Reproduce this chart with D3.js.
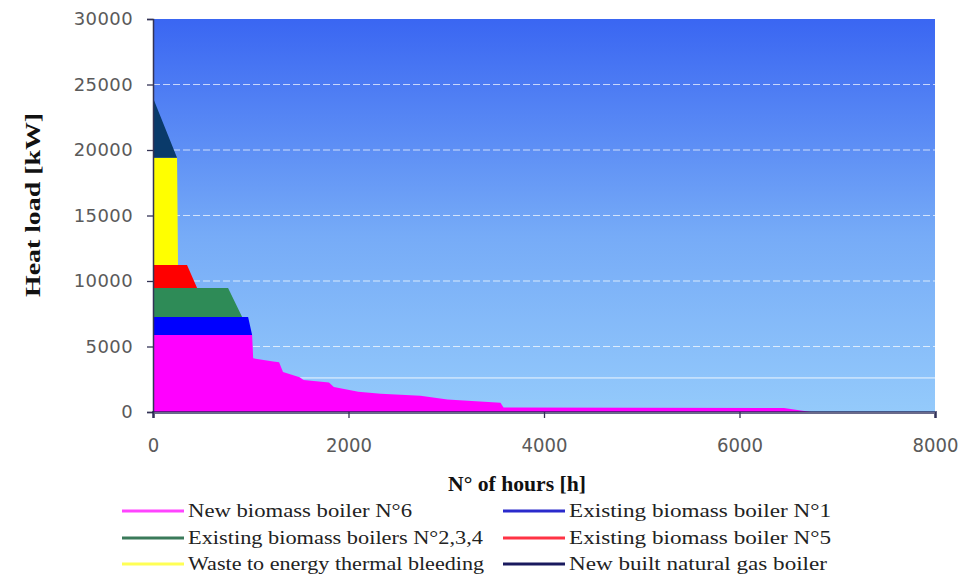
<!DOCTYPE html>
<html>
<head>
<meta charset="utf-8">
<script src="https://cdn.jsdelivr.net/npm/d3@7"></script>
<style>
  html, body { margin: 0; padding: 0; background: #ffffff; }
  svg { display: block; }
</style>
</head>
<body>
<svg id="chart" width="969" height="577"></svg>
<script>
// ---- Data ----
const hours = [0, 10, 246, 256, 348, 451, 768, 912, 973, 1014, 1025, 1230, 1290, 1330, 1500, 1540, 1800, 1850, 2100, 2330, 2736, 3012, 3555, 3586, 6455, 6732, 8000];
const newBiomassN6 =      [5880, 5880, 5880, 5880, 5880, 5880, 5880, 5880, 5880, 5880, 4100, 3850, 3800, 3050, 2650, 2450, 2250, 1900, 1550, 1400, 1250, 950, 700, 350, 300, 0, 0];
const existingBiomassN1 = [1370, 1370, 1370, 1370, 1370, 1370, 1370, 1370, 1370, 0, 0, 0, 0, 0, 0, 0, 0, 0, 0, 0, 0, 0, 0, 0, 0, 0, 0];
const existingBiomassN234=[2220, 2220, 2220, 2220, 2220, 2220, 2220, 0, 0, 0, 0, 0, 0, 0, 0, 0, 0, 0, 0, 0, 0, 0, 0, 0, 0, 0, 0];
const existingBiomassN5 = [1750, 1750, 1750, 1750, 1750, 0, 0, 0, 0, 0, 0, 0, 0, 0, 0, 0, 0, 0, 0, 0, 0, 0, 0, 0, 0, 0, 0];
const wasteToEnergy =     [8180, 8180, 8180, 0, 0, 0, 0, 0, 0, 0, 0, 0, 0, 0, 0, 0, 0, 0, 0, 0, 0, 0, 0, 0, 0, 0, 0];
const newGasBoiler =      [7400, 4400, 0, 0, 0, 0, 0, 0, 0, 0, 0, 0, 0, 0, 0, 0, 0, 0, 0, 0, 0, 0, 0, 0, 0, 0, 0];

const seriesNames = [
  "New biomass boiler N°6",
  "Existing biomass boiler N°1",
  "Existing biomass boilers N°2,3,4",
  "Existing biomass boiler N°5",
  "Waste to energy thermal bleeding",
  "New built natural gas boiler"
];
const seriesValues = [newBiomassN6, existingBiomassN1, existingBiomassN234, existingBiomassN5, wasteToEnergy, newGasBoiler];
const areaColors = ["#ff00ff", "#0000ff", "#2e8b57", "#ff0000", "#ffff00", "#0a3a6a"];
const legendColors = ["#ff44ff", "#2a2acc", "#3a7a5a", "#ff3344", "#ffff55", "#1a1a5e"];
const legendTextWidths = [224, 262, 295, 262, 296, 258];
const xTicks = [0, 2000, 4000, 6000, 8000];
const yTicks = [0, 5000, 10000, 15000, 20000, 25000, 30000];
const thinRefLine = 2600;

// ---- Layout ----
const svg = d3.select("#chart");
const pLeft = 153, pRight = 935, pTop = 19, pBottom = 412;

const x = d3.scaleLinear().domain([0, 8000]).range([pLeft, pRight]);
const y = d3.scaleLinear().domain([0, 30000]).range([pBottom, pTop]);

// background gradient
const defs = svg.append("defs");
const grad = defs.append("linearGradient").attr("id", "bg").attr("x1", 0).attr("y1", 0).attr("x2", 0).attr("y2", 1);
grad.append("stop").attr("offset", "0%").attr("stop-color", "#3a66f2");
grad.append("stop").attr("offset", "55%").attr("stop-color", "#76abf7");
grad.append("stop").attr("offset", "100%").attr("stop-color", "#94cafb");

svg.append("rect")
  .attr("x", pLeft).attr("y", pTop)
  .attr("width", pRight - pLeft).attr("height", pBottom - pTop)
  .attr("fill", "url(#bg)");

// gridlines
svg.append("g")
  .selectAll("line")
  .data(yTicks.filter(d => d > 0 && d < 30000))
  .join("line")
  .attr("x1", pLeft).attr("x2", pRight)
  .attr("y1", d => y(d)).attr("y2", d => y(d))
  .attr("stroke", "#ffffff")
  .attr("stroke-opacity", 0.7)
  .attr("stroke-width", 1.2)
  .attr("stroke-dasharray", "7,3");

svg.append("line")
  .attr("x1", pLeft).attr("x2", pRight)
  .attr("y1", y(thinRefLine)).attr("y2", y(thinRefLine))
  .attr("stroke", "#ffffff")
  .attr("stroke-opacity", 0.85)
  .attr("stroke-width", 1);

// stacked areas
const table = hours.map((h, i) => {
  const row = { h };
  seriesNames.forEach((n, k) => { row[n] = seriesValues[k][i]; });
  return row;
});
const stack = d3.stack().keys(seriesNames);
const layers = stack(table);
const area = d3.area()
  .x(d => x(d.data.h))
  .y0(d => y(d[0]))
  .y1(d => y(d[1]))
  .curve(d3.curveLinear);

svg.append("g")
  .selectAll("path")
  .data(layers)
  .join("path")
  .attr("d", area)
  .attr("fill", (d, i) => areaColors[i]);

// axes
const axisColor = "#333355";
const yAxis = d3.axisLeft(y).tickValues(yTicks).tickSize(6).tickPadding(14).tickFormat(d3.format("d"));
const gy = svg.append("g").attr("transform", `translate(${pLeft},0)`).call(yAxis);
gy.select(".domain").attr("stroke", axisColor).attr("stroke-width", 1.5);
gy.selectAll(".tick line").attr("stroke", axisColor).attr("stroke-width", 1.3);
gy.selectAll(".tick text")
  .attr("font-family", "DejaVu Sans, sans-serif")
  .attr("font-size", 18)
  .attr("fill", "#5a5a5a")
  .attr("letter-spacing", "0.4px");

const xAxis = d3.axisBottom(x).tickValues(xTicks).tickSize(6).tickPadding(20).tickFormat(d3.format("d"));
const gx = svg.append("g").attr("transform", `translate(0,${pBottom})`).call(xAxis);
gx.select(".domain").attr("stroke", "#1a1a4d").attr("stroke-opacity", 0.65).attr("stroke-width", 3);
gx.selectAll(".tick line").attr("stroke", axisColor).attr("stroke-width", 1.3);
gx.selectAll(".tick text")
  .attr("font-family", "DejaVu Sans, sans-serif")
  .attr("font-size", 20)
  .attr("fill", "#5a5a5a")
  .attr("textLength", d => String(d).length * 11.5)
  .attr("lengthAdjust", "spacingAndGlyphs");

// axis titles
svg.append("text")
  .attr("x", 517).attr("y", 491)
  .attr("text-anchor", "middle")
  .attr("font-family", "Liberation Serif, serif")
  .attr("font-weight", "bold")
  .attr("font-size", 20)
  .attr("fill", "#111")
  .attr("textLength", 138)
  .attr("lengthAdjust", "spacingAndGlyphs")
  .text("N° of hours [h]");

svg.append("text")
  .attr("transform", "translate(40,205) rotate(-90)")
  .attr("text-anchor", "middle")
  .attr("font-family", "Liberation Serif, serif")
  .attr("font-weight", "bold")
  .attr("font-size", 22)
  .attr("fill", "#111")
  .attr("textLength", 184)
  .attr("lengthAdjust", "spacingAndGlyphs")
  .text("Heat load [kW]");

// legend
const legendPos = [
  { lx: 122, ly: 511 }, { lx: 503, ly: 511 },
  { lx: 122, ly: 538 }, { lx: 503, ly: 538 },
  { lx: 122, ly: 564 }, { lx: 503, ly: 564 }
];
const lg = svg.append("g");
const items = lg.selectAll("g").data(seriesNames).join("g")
  .attr("transform", (d, i) => `translate(${legendPos[i].lx},${legendPos[i].ly})`);
items.append("line")
  .attr("x1", 0).attr("x2", 62).attr("y1", 0).attr("y2", 0)
  .attr("stroke", (d, i) => legendColors[i])
  .attr("stroke-width", 3);
items.append("text")
  .attr("x", 66).attr("y", 6)
  .attr("font-family", "Liberation Serif, serif")
  .attr("font-size", 18)
  .attr("fill", "#222")
  .attr("textLength", (d, i) => legendTextWidths[i])
  .attr("lengthAdjust", "spacingAndGlyphs")
  .text(d => d);
</script>
</body>
</html>
